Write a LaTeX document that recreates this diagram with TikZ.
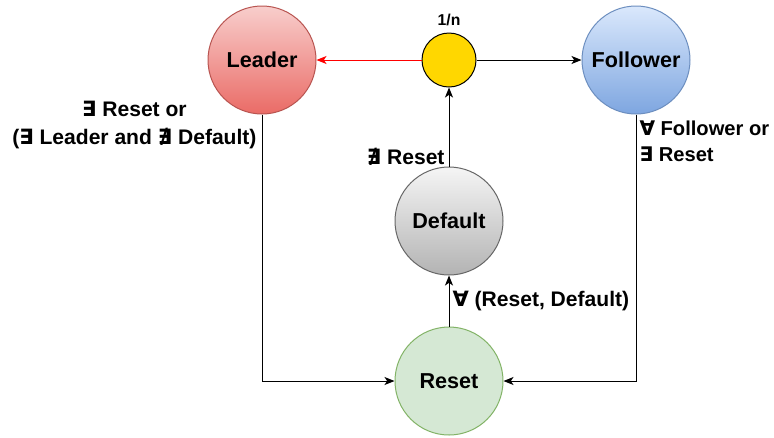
\documentclass[tikz,border=0pt]{standalone}
\usepackage{fontspec}
\setmainfont{Liberation Sans}
\newfontfamily\symfont{DejaVu Sans}
\usetikzlibrary{arrows.meta}
\newcommand{\sym}[1]{{\symfont\bfseries #1}}

\tikzset{every picture/.style={line width=0.75pt}}
\tikzset{
  state/.style={circle, minimum size=81pt, inner sep=0pt, line width=0.75pt, font=\fontsize{16.2}{19}\selectfont\bfseries},
  link/.style={-{Stealth[length=7.5pt,width=6pt,inset=2pt]}, line width=0.75pt},
  lbl/.style={inner sep=0.75pt, font=\fontsize{15.8}{21}\selectfont\bfseries}
}

\begin{document}
\begin{tikzpicture}[x=0.75pt,y=0.75pt,yscale=-1,xscale=1]
\useasboundingbox (0,0) rectangle (774,437);

%Shape: Circle [leader]
\node [state, draw={rgb, 255:red, 184; green, 84; blue, 80 }, top color={rgb, 255:red, 248; green, 206; blue, 204 }, bottom color={rgb, 255:red, 234; green, 107; blue, 102 }] (lead) at (262,60) {Leader};
%Shape: Circle [follower]
\node [state, draw={rgb, 255:red, 108; green, 142; blue, 191 }, top color={rgb, 255:red, 218; green, 232; blue, 252 }, bottom color={rgb, 255:red, 126; green, 166; blue, 224 }] (fol) at (636,60) {Follower};
%Shape: Circle [choice]
\node [circle, minimum size=40.5pt, inner sep=0pt, draw=black, fill={rgb, 255:red, 255; green, 215; blue, 0 }] (coin) at (449,60) {};
%Shape: Circle [default]
\node [state, draw={rgb, 255:red, 102; green, 102; blue, 102 }, top color={rgb, 255:red, 245; green, 245; blue, 245 }, bottom color={rgb, 255:red, 179; green, 179; blue, 179 }] (def) at (449,221) {Default};
%Shape: Circle [reset]
\node [state, draw={rgb, 255:red, 130; green, 179; blue, 102 }, fill={rgb, 255:red, 213; green, 232; blue, 212 }] (res) at (449,381) {Reset};

%Straight Lines
\draw [link, color={rgb, 255:red, 255; green, 0; blue, 0 }] (coin) -- (lead) ;
%Straight Lines
\draw [link] (coin) -- (fol) ;
%Straight Lines
\draw [link] (def) -- (coin) ;
%Straight Lines
\draw [link] (res) -- (def) ;
%Elbow Lines
\draw [link] (lead) |- (res) ;
%Elbow Lines
\draw [link] (fol) |- (res) ;

% Text Node
\node [inner sep=0.75pt, font=\fontsize{11.8}{14}\selectfont\bfseries] (prob) at (449,20) {1/n};
% Text Node
\node [lbl, anchor=east, align=center] (leadcond) at (258,125) {\sym{∃} Reset or\\(\sym{∃} Leader and \sym{∄} Default)};
% Text Node
\node [lbl, anchor=west, align=left, font=\fontsize{15.1}{19.5}\selectfont\bfseries] (folcond) at (638,141) {\sym{∀} Follower or\\\sym{∃} Reset};
% Text Node
\node [lbl, anchor=east] (defcond) at (446,157) {\sym{∄} Reset};
% Text Node
\node [lbl, anchor=west] (rescond) at (451,301) {\sym{∀} (Reset, Default)};

\end{tikzpicture}
\end{document}
